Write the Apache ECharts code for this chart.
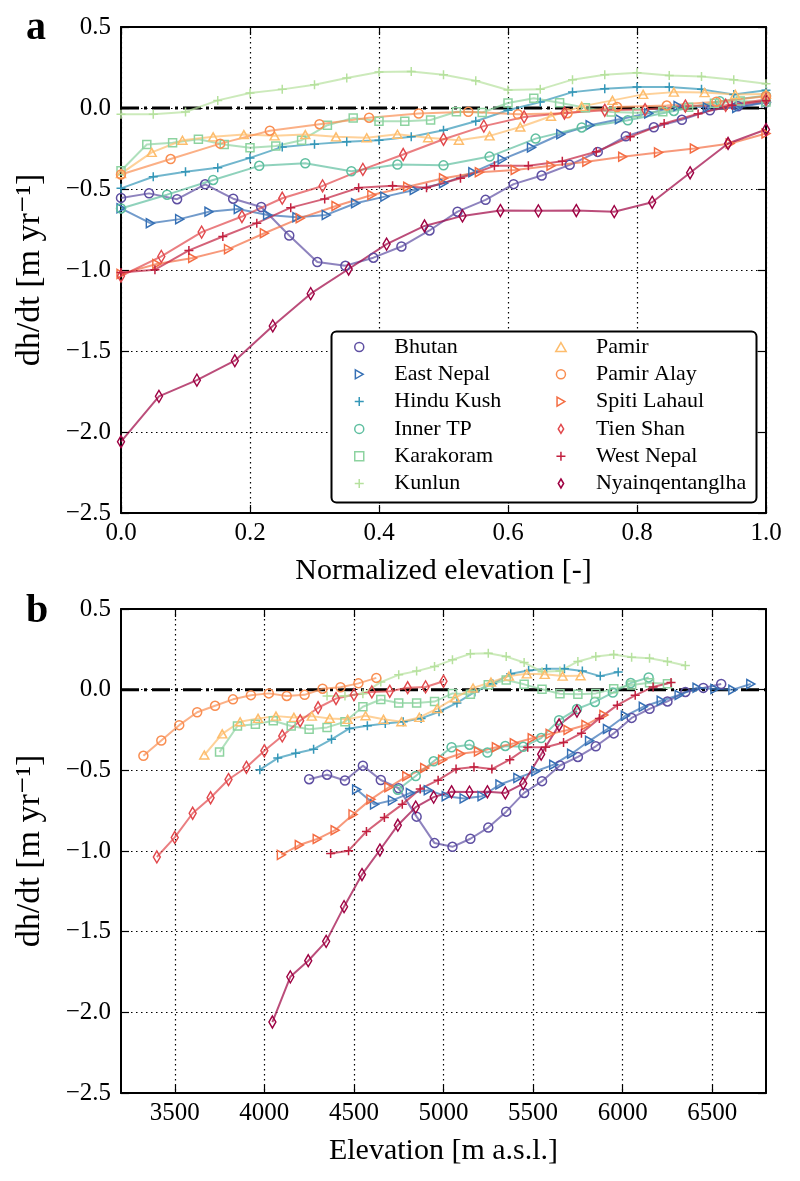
<!DOCTYPE html>
<html lang="en">
<head>
<meta charset="UTF-8">
<title>dh/dt profiles</title>
<script src="https://cdn.jsdelivr.net/npm/echarts@6/dist/echarts.min.js"></script>
<style>
html, body { margin: 0; padding: 0; background: #fff; }
#chart { width: 800px; height: 1181px; }
</style>
</head>
<body>
<div id="chart"></div>
<script>
// regions in legend order
var regions = ['Bhutan', 'East Nepal', 'Hindu Kush', 'Inner TP', 'Karakoram', 'Kunlun',
               'Pamir', 'Pamir Alay', 'Spiti Lahaul', 'Tien Shan', 'West Nepal', 'Nyainqentanglha'];

// elevation bins [m a.s.l.] and dh/dt [m/yr] per region
var elevBhutan = [4250,4350,4450,4550,4650,4750,4850,4950,5050,5150,5250,5350,5450,5550,5650,5750,5850,5950,6050,6150,6250,6350,6450,6550];
var dhBhutan = [-0.555,-0.527,-0.563,-0.471,-0.560,-0.611,-0.787,-0.951,-0.974,-0.924,-0.855,-0.756,-0.640,-0.567,-0.470,-0.417,-0.351,-0.271,-0.175,-0.119,-0.073,-0.014,0.011,0.035];

var elevEastNepal = [4515,4615,4715,4815,4915,5015,5115,5215,5315,5415,5515,5615,5715,5815,5915,6015,6115,6215,6315,6415,6515,6615,6715];
var dhEastNepal = [-0.619,-0.711,-0.686,-0.640,-0.623,-0.660,-0.674,-0.660,-0.588,-0.547,-0.506,-0.465,-0.397,-0.317,-0.244,-0.162,-0.106,-0.069,-0.033,0.012,0.004,0.0,0.035];

var elevHinduKush = [3975,4075,4175,4275,4375,4475,4575,4675,4775,4875,4975,5075,5175,5275,5375,5475,5575,5675,5775,5875,5975];
var dhHinduKush = [-0.496,-0.424,-0.394,-0.369,-0.308,-0.240,-0.223,-0.209,-0.199,-0.178,-0.137,-0.082,-0.014,0.037,0.098,0.119,0.129,0.129,0.115,0.084,0.109];

var elevInnerTP = [4745,4845,4945,5045,5145,5245,5345,5445,5545,5645,5745,5845,5945,6045,6145];
var dhInnerTP = [-0.620,-0.535,-0.444,-0.357,-0.341,-0.390,-0.349,-0.354,-0.300,-0.189,-0.120,-0.076,-0.018,0.041,0.076];

var elevKarakoram = [3750,3850,3950,4050,4150,4250,4350,4450,4550,4650,4750,4850,4950,5050,5150,5250,5350,5450,5550,5650,5750,5850,5950,6050,6150,6250];
var dhKarakoram = [-0.387,-0.225,-0.215,-0.193,-0.225,-0.246,-0.234,-0.199,-0.106,-0.061,-0.082,-0.082,-0.074,-0.023,-0.028,0.031,0.060,0.033,0.002,-0.025,-0.029,-0.023,0.005,0.029,0.043,0.037];

var elevKunlun = [4350,4450,4550,4650,4750,4850,4950,5050,5150,5250,5350,5450,5550,5650,5750,5850,5950,6050,6150,6250,6350];
var dhKunlun = [-0.039,-0.039,-0.025,0.047,0.092,0.115,0.144,0.185,0.222,0.226,0.205,0.168,0.111,0.115,0.175,0.205,0.218,0.201,0.195,0.175,0.150];

var elevPamir = [3665,3765,3865,3965,4065,4165,4265,4365,4465,4565,4665,4765,4865,4965,5065,5165,5265,5365,5465,5565,5665,5765];
var dhPamir = [-0.405,-0.274,-0.199,-0.178,-0.164,-0.172,-0.164,-0.178,-0.184,-0.162,-0.184,-0.199,-0.172,-0.117,-0.051,0.010,0.047,0.084,0.098,0.095,0.084,0.086];

var elevPamirAlay = [3325,3425,3525,3625,3725,3825,3925,4025,4125,4225,4325,4425,4525,4625];
var dhPamirAlay = [-0.410,-0.315,-0.220,-0.140,-0.100,-0.060,-0.034,-0.023,-0.039,-0.032,0.006,0.015,0.039,0.073];

var elevSpiti = [4095,4195,4295,4395,4495,4595,4695,4795,4895,4995,5095,5195,5295,5395,5495,5595,5695,5795,5895];
var dhSpiti = [-1.024,-0.963,-0.926,-0.871,-0.773,-0.680,-0.605,-0.537,-0.486,-0.434,-0.397,-0.383,-0.357,-0.332,-0.301,-0.274,-0.250,-0.219,-0.157];

var elevTienShan = [3400,3500,3600,3700,3800,3900,4000,4100,4200,4300,4400,4500,4600,4700,4800,4900,5000];
var dhTienShan = [-1.037,-0.916,-0.766,-0.670,-0.557,-0.481,-0.379,-0.287,-0.193,-0.112,-0.055,-0.031,-0.014,-0.010,0.012,0.017,0.052];

var elevWestNepal = [4370,4470,4570,4670,4770,4870,4970,5070,5170,5270,5370,5470,5570,5670,5770,5870,5970,6070,6170,6270];
var dhWestNepal = [-1.015,-0.998,-0.879,-0.793,-0.711,-0.615,-0.561,-0.492,-0.480,-0.492,-0.434,-0.357,-0.357,-0.328,-0.270,-0.178,-0.096,-0.035,0.017,0.045];

var elevNyain = [4045,4145,4245,4345,4445,4545,4645,4745,4845,4945,5045,5145,5245,5345,5445,5545,5645,5745];
var dhNyain = [-2.060,-1.780,-1.680,-1.560,-1.345,-1.146,-0.994,-0.840,-0.728,-0.666,-0.633,-0.635,-0.633,-0.640,-0.582,-0.400,-0.219,-0.133];

// axis ticks
var elevTicks = [3500, 4000, 4500, 5000, 5500, 6000, 6500];
var elevRange = [3200, 6800];
var dhRange = [-2.5, 0.5];

var elev = {
    'Bhutan': elevBhutan, 'East Nepal': elevEastNepal, 'Hindu Kush': elevHinduKush,
    'Inner TP': elevInnerTP, 'Karakoram': elevKarakoram, 'Kunlun': elevKunlun,
    'Pamir': elevPamir, 'Pamir Alay': elevPamirAlay, 'Spiti Lahaul': elevSpiti,
    'Tien Shan': elevTienShan, 'West Nepal': elevWestNepal, 'Nyainqentanglha': elevNyain
};
var dh = {
    'Bhutan': dhBhutan, 'East Nepal': dhEastNepal, 'Hindu Kush': dhHinduKush,
    'Inner TP': dhInnerTP, 'Karakoram': dhKarakoram, 'Kunlun': dhKunlun,
    'Pamir': dhPamir, 'Pamir Alay': dhPamirAlay, 'Spiti Lahaul': dhSpiti,
    'Tien Shan': dhTienShan, 'West Nepal': dhWestNepal, 'Nyainqentanglha': dhNyain
};

var FONT = "'Liberation Serif', 'DejaVu Serif', serif";
var PLUS = 'path://M5,0L5,10M0,5L10,5';
var TRI_R = 'path://M0,0L8.66,5L0,10Z';
var TRI_U = 'path://M5,0L10,8.66L0,8.66Z';
var SQUARE = 'path://M0,0L10,0L10,10L0,10Z';
var DIAM = 'path://M3,0L6,5L3,10L0,5Z';

var look = {
    'Bhutan':          { color: '#5e4fa2', symbol: 'circle', size: 9 },
    'East Nepal':      { color: '#3670b5', symbol: TRI_R,    size: [8, 9] },
    'Hindu Kush':      { color: '#3597b8', symbol: PLUS,     size: 9 },
    'Inner TP':        { color: '#5fbfa0', symbol: 'circle', size: 9 },
    'Karakoram':       { color: '#8dd3a0', symbol: SQUARE,   size: 8 },
    'Kunlun':          { color: '#b6e19e', symbol: PLUS,     size: 9 },
    'Pamir':           { color: '#fdbd6d', symbol: TRI_U,    size: [9, 8] },
    'Pamir Alay':      { color: '#f98e52', symbol: 'circle', size: 9 },
    'Spiti Lahaul':    { color: '#f46d43', symbol: TRI_R,    size: [8, 9] },
    'Tien Shan':       { color: '#e1474b', symbol: DIAM,     size: [7, 12] },
    'West Nepal':      { color: '#c2203f', symbol: PLUS,     size: 9 },
    'Nyainqentanglha': { color: '#9e0142', symbol: DIAM,     size: [7, 12] }
};

function normalize(z) {
    var lo = z[0], hi = z[z.length - 1];
    return z.map(function (v) { return (v - lo) / (hi - lo); });
}
function fmtDh(v) {
    return (v < 0 ? '\u2212' : '') + Math.abs(v).toFixed(1);
}

var black = '#000';
var lineAx = { show: true, onZero: false, lineStyle: { color: black, width: 2 } };
var tickAx = { show: true, inside: true, length: 8, lineStyle: { color: black, width: 1.2 } };
var gridLine = { show: true, lineStyle: { color: black, width: 1.2, type: [1.5, 3.5] } };
var labelStyle = { color: black, fontSize: 25, fontFamily: FONT };
var nameStyle = { color: black, fontSize: 30, lineHeight: 30, fontFamily: FONT };

var xAxes = [
    { gridIndex: 0, type: 'value', position: 'bottom', min: 0, max: 1, interval: 0.2,
      axisLine: lineAx, axisTick: tickAx, splitLine: gridLine,
      axisLabel: Object.assign({ margin: 8, formatter: function (v) { return v.toFixed(1); } }, labelStyle),
      name: 'Normalized elevation [-]', nameLocation: 'middle', nameGap: 43, nameMoveOverlap: false,
      nameTextStyle: nameStyle },
    { gridIndex: 0, type: 'value', position: 'top', min: 0, max: 1, interval: 0.2,
      axisLine: lineAx, axisTick: tickAx, splitLine: { show: false }, axisLabel: { show: false } },
    { gridIndex: 1, type: 'value', position: 'bottom', min: elevRange[0], max: elevRange[1],
      axisLine: lineAx, axisTick: Object.assign({ customValues: elevTicks }, tickAx), splitLine: gridLine,
      axisLabel: Object.assign({ margin: 8, customValues: elevTicks, formatter: function (v) { return String(v); } }, labelStyle),
      name: 'Elevation [m a.s.l.]', nameLocation: 'middle', nameGap: 43, nameMoveOverlap: false,
      nameTextStyle: nameStyle },
    { gridIndex: 1, type: 'value', position: 'top', min: elevRange[0], max: elevRange[1],
      axisLine: lineAx, axisTick: Object.assign({ customValues: elevTicks }, tickAx),
      splitLine: { show: false }, axisLabel: { show: false } }
];

var yAxes = [];
[0, 1].forEach(function (g) {
    yAxes.push({ gridIndex: g, type: 'value', position: 'left', min: dhRange[0], max: dhRange[1], interval: 0.5,
        axisLine: lineAx, axisTick: tickAx, splitLine: gridLine,
        axisLabel: Object.assign({ margin: 10, formatter: fmtDh }, labelStyle),
        name: 'dh/dt [m yr\u207B\u00B9]', nameLocation: 'middle', nameGap: 74, nameRotate: 90, nameMoveOverlap: false,
        nameTextStyle: { color: black, fontSize: 34, lineHeight: 34, fontFamily: FONT } });
    yAxes.push({ gridIndex: g, type: 'value', position: 'right', min: dhRange[0], max: dhRange[1], interval: 0.5,
        axisLine: lineAx, axisTick: tickAx, splitLine: { show: false }, axisLabel: { show: false } });
});

var series = [];
// dash-dot zero lines
series.push({ type: 'line', xAxisIndex: 0, yAxisIndex: 0, data: [[0, 0], [1, 0]], symbol: 'none', silent: true,
    lineStyle: { color: black, width: 3, type: [18, 5, 3, 5] } });
series.push({ type: 'line', xAxisIndex: 2, yAxisIndex: 2, data: [[elevRange[0], 0], [elevRange[1], 0]], symbol: 'none', silent: true,
    lineStyle: { color: black, width: 3, type: [18, 5, 3, 5] } });

regions.forEach(function (r) {
    var st = look[r];
    var z = elev[r], d = dh[r], nz = normalize(z);
    var base = {
        type: 'line', name: r, symbol: st.symbol, symbolSize: st.size,
        lineStyle: { color: st.color, width: 2, opacity: 0.7 },
        itemStyle: { color: 'transparent', borderColor: st.color, borderWidth: 1.5 },
        emphasis: { disabled: true }
    };
    series.push(Object.assign({}, base, { xAxisIndex: 0, yAxisIndex: 0,
        data: nz.map(function (x, i) { return [x, d[i]]; }) }));
    series.push(Object.assign({}, base, { xAxisIndex: 2, yAxisIndex: 2,
        data: z.map(function (x, i) { return [x, d[i]]; }) }));
});

function legendItems(names) {
    return names.map(function (r) {
        var st = look[r];
        return { name: r, icon: st.symbol,
            itemStyle: { color: 'transparent', borderColor: st.color, borderWidth: 1.5 } };
    });
}
var legendCommon = {
    orient: 'vertical', padding: 0, itemGap: 5.3, itemWidth: 60, itemHeight: 9,
    selectedMode: false, top: 336,
    textStyle: { color: black, fontSize: 22, lineHeight: 22, fontFamily: FONT }
};

var myChart = echarts.init(document.getElementById('chart'));
myChart.setOption({
    animation: false,
    backgroundColor: '#fff',
    grid: [
        { left: 121, top: 27, width: 645, height: 486, outerBoundsMode: 'none' },
        { left: 121, top: 609, width: 645, height: 484, outerBoundsMode: 'none' }
    ],
    xAxis: xAxes,
    yAxis: yAxes,
    legend: [
        Object.assign({ left: 354, data: legendItems(regions.slice(0, 6)) }, legendCommon),
        Object.assign({ left: 555, data: legendItems(regions.slice(6)) }, legendCommon)
    ],
    graphic: [
        { type: 'rect', z: 3, shape: { x: 331.5, y: 331.5, width: 425, height: 171, r: 5 },
          style: { fill: '#fff', stroke: black, lineWidth: 2 } },
        { type: 'text', x: 26, y: 29, style: { text: 'a', fontSize: 40, fontWeight: 'bold', fontFamily: FONT,
          fill: black, verticalAlign: 'middle' } },
        { type: 'text', x: 26, y: 612, style: { text: 'b', fontSize: 40, fontWeight: 'bold', fontFamily: FONT,
          fill: black, verticalAlign: 'middle' } }
    ],
    series: series
});
</script>
</body>
</html>
